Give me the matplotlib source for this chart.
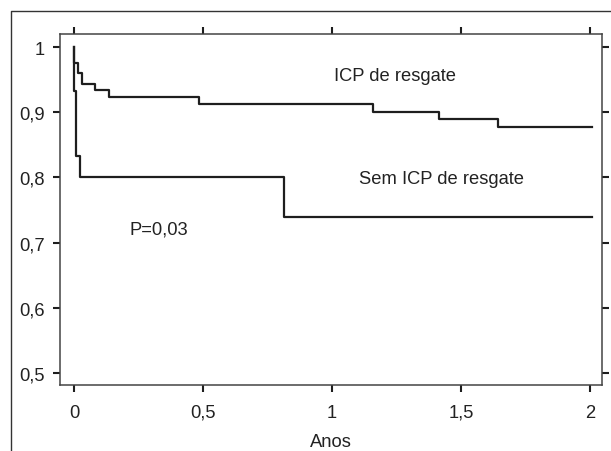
import matplotlib
matplotlib.use('agg')
import matplotlib.pyplot as plt
from matplotlib.lines import Line2D

plt.rcParams['font.family'] = ['Liberation Sans', 'DejaVu Sans']

# curva com ICP de resgate
t_resgate = [0, 0.001, 0.017, 0.031, 0.081, 0.137, 0.484, 1.16, 1.415, 1.643, 2.008]
s_resgate = [1.0, 0.976, 0.960, 0.943, 0.934, 0.923, 0.912, 0.900, 0.890, 0.878, 0.878]

# curva sem ICP de resgate
t_sem = [0, 0.002, 0.009, 0.024, 0.814, 2.008]
s_sem = [1.0, 0.933, 0.833, 0.800, 0.740, 0.740]

x_ticks = [0, 0.5, 1, 1.5, 2]
x_labels = ['0', '0,5', '1', '1,5', '2']
y_ticks = [0.5, 0.6, 0.7, 0.8, 0.9, 1.0]
y_labels = ['0,5', '0,6', '0,7', '0,8', '0,9', '1']

fig = plt.figure(figsize=(6.11, 4.52), dpi=100)
ax = fig.add_axes([60 / 611, 66 / 452, 542 / 611, 351 / 452])

# moldura externa
fig.add_artist(Line2D([11 / 611, 11 / 611, 1.0], [0.0, 1 - 12 / 452, 1 - 12 / 452],
                      transform=fig.transFigure, color='#333333', lw=1.0))

ax.step(t_resgate, s_resgate, where='post', color='#1e1e1e', lw=1.6)
ax.step(t_sem, s_sem, where='post', color='#1e1e1e', lw=1.6)

ax.set_xlim(-0.054, 2.0465)
ax.set_ylim(0.4816, 1.02)
ax.set_xticks(x_ticks)
ax.set_xticklabels(x_labels)
ax.set_yticks(y_ticks)
ax.set_yticklabels(y_labels)

ax.tick_params(direction='out', length=5, width=1.5, color='#1e1e1e',
               labelsize=13.2, labelcolor='#222222', top=True, right=True, pad=6)
ax.tick_params(axis='x', pad=8.5)
for sp in ax.spines.values():
    sp.set_color('#444444')
    sp.set_linewidth(1.1)

ax.set_xlabel('Anos', fontsize=13.2, color='#222222', labelpad=9)

fs = 13.2
ax.text(1.244, 0.956, 'ICP de resgate', fontsize=fs, color='#222222', ha='center', va='center')
ax.text(1.426, 0.799, 'Sem ICP de resgate', fontsize=fs, color='#222222', ha='center', va='center')
ax.text(0.33, 0.7204, 'P=0,03', fontsize=fs, color='#222222', ha='center', va='center')

fig.savefig('out.png', dpi=100)
